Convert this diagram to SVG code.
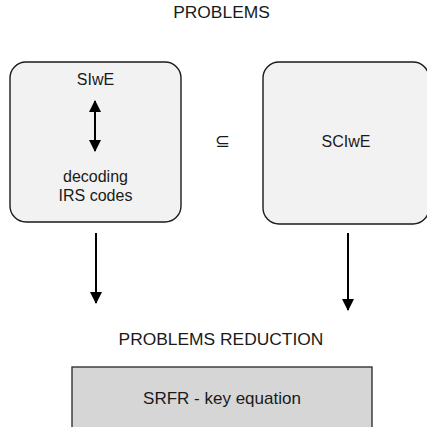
<svg xmlns="http://www.w3.org/2000/svg" width="427" height="427" viewBox="0 0 427 427">
  <defs>
    <marker id="ah" viewBox="0 0 12 12" refX="11" refY="6" markerWidth="12" markerHeight="12" markerUnits="userSpaceOnUse" orient="auto-start-reverse">
      <path d="M0,0 L12,6 L0,12 Z" fill="#000"/>
    </marker>
    <style>
      text { font-family: "Liberation Sans", Arial, sans-serif; font-size: 16px; fill: #1a1a1a; text-anchor: middle; }
      .big { font-size: 17.4px; }
      .box { fill: #f2f2f2; stroke: #1a1a1a; stroke-width: 1.4; }
      .bot { fill: #d6d6d6; stroke: #333; stroke-width: 1.4; }
      .conn { stroke: #000; stroke-width: 2; fill: none; marker-end: url(#ah); }
    </style>
  </defs>
  <rect width="427" height="427" fill="#fff"/>
  <text id="title" class="big" x="221.5" y="18">PROBLEMS</text>

  <g id="slwe">
    <rect class="box" x="10" y="62" width="171" height="160" rx="16"/>
    <text x="95.5" y="85">SIwE</text>
    <line x1="95" y1="101" x2="95" y2="151" stroke="#000" stroke-width="2" marker-start="url(#ah)" marker-end="url(#ah)"/>
    <text x="95.5" y="182">decoding</text>
    <text x="95.5" y="201">IRS codes</text>
  </g>

  <text id="subset" x="222.5" y="147" style="font-family:'DejaVu Sans', sans-serif; font-size:18px">⊆</text>

  <g id="sclwe">
    <rect class="box" x="263" y="62" width="166" height="162" rx="16"/>
    <text x="346" y="147">SCIwE</text>
  </g>

  <g id="connectors">
    <line class="conn" x1="96" y1="233" x2="96" y2="303"/>
    <line class="conn" x1="348" y1="233" x2="348" y2="310"/>
  </g>

  <text id="reduction" class="big" x="221" y="345">PROBLEMS REDUCTION</text>

  <g id="srfr">
    <rect class="bot" x="72" y="367" width="300" height="70"/>
    <text x="222" y="404" style="font-size:17px">SRFR - key equation</text>
  </g>
</svg>
